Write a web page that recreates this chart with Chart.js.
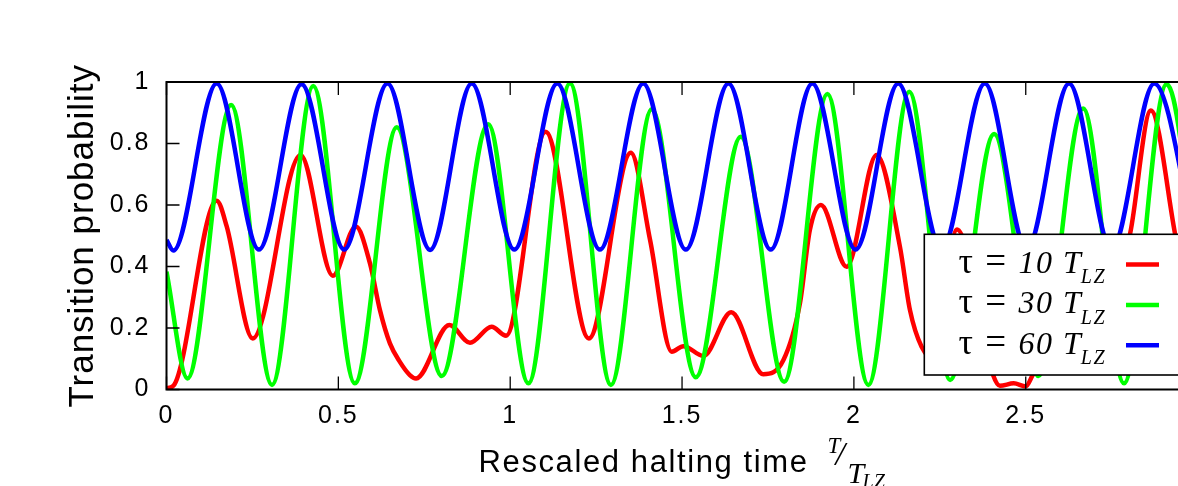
<!DOCTYPE html>
<html lang="en">
<head>
<meta charset="UTF-8" />
<title>Transition probability vs rescaled halting time</title>
<script src="https://cdn.jsdelivr.net/npm/chart.js"></script>
<style>
  html, body { margin: 0; padding: 0; background: #fff; overflow: hidden; }
  canvas { display: block; }
</style>
</head>
<body>
<canvas id="chart" width="1178" height="486"></canvas>
<script>
// tick labels
const xTicks = [0, 0.5, 1, 1.5, 2, 2.5];
const xTickLabels = ['0', '0.5', '1', '1.5', '2', '2.5'];
const yTicks = [0, 0.2, 0.4, 0.6, 0.8, 1];
const yTickLabels = ['0', '0.2', '0.4', '0.6', '0.8', '1'];
// the picture is cut at the right, just short of T/T_LZ = 3
const xMin = 0, xMax = 2.943, xFull = 3;

// tau values (in units of T_LZ) for the three curves
const tauValues = ['10', '30', '60'];
const colors = ['#ff0000', '#00ff00', '#0000ff'];

// tau = 10 T_LZ
const redX = [0, 0.02, 0.146, 0.175, 0.251, 0.390, 0.484, 0.551, 0.592, 0.621, 0.650, 0.679, 0.708, 0.726,
  0.823, 0.883, 0.946, 0.988, 1.103, 1.229, 1.351, 1.407, 1.470, 1.504, 1.562, 1.643, 1.736, 1.795, 1.843,
  1.872, 1.904, 1.979, 2.066, 2.134, 2.163, 2.197, 2.235, 2.300, 2.405, 2.425, 2.465, 2.500, 2.520, 2.600,
  2.700, 2.804, 2.864, 2.934, 3.0];
const redY = [0.004, 0.012, 0.614, 0.531, 0.166, 0.763, 0.370, 0.530, 0.41, 0.258, 0.150, 0.090, 0.047, 0.036,
  0.210, 0.152, 0.204, 0.175, 0.838, 0.166, 0.770, 0.486, 0.123, 0.141, 0.109, 0.251, 0.050, 0.096, 0.28,
  0.519, 0.600, 0.399, 0.763, 0.464, 0.259, 0.139, 0.10, 0.52, 0.047, 0.012, 0.02, 0.010, 0.047, 0.22,
  0.09, 0.509, 0.907, 0.509, 0.1];

// tau = 30 T_LZ
const greenX = [0, 0.061, 0.188, 0.307, 0.427, 0.548, 0.670, 0.801, 0.936, 1.053, 1.174, 1.293, 1.412, 1.540,
  1.671, 1.797, 1.923, 2.042, 2.161, 2.280, 2.408, 2.537, 2.667, 2.786, 2.910, 3.03];
const greenY = [0.383, 0.036, 0.925, 0.015, 0.987, 0.020, 0.853, 0.044, 0.863, 0.020, 0.996, 0.015, 0.911, 0.040,
  0.822, 0.025, 0.961, 0.015, 0.968, 0.031, 0.831, 0.044, 0.914, 0.020, 0.993, 0.02];

// tau = 60 T_LZ
const blueX = [0, 0.020, 0.146, 0.269, 0.393, 0.517, 0.643, 0.767, 0.888, 1.012, 1.137, 1.261, 1.387, 1.511,
  1.635, 1.758, 1.879, 2.005, 2.129, 2.255, 2.381, 2.503, 2.626, 2.750, 2.874, 2.998];
const blueY = [0.486, 0.452, 0.995, 0.455, 0.993, 0.455, 0.995, 0.454, 0.995, 0.455, 0.995, 0.455, 0.995, 0.455,
  0.995, 0.455, 0.995, 0.455, 0.995, 0.455, 0.995, 0.455, 0.995, 0.455, 0.995, 0.455];

const toPoints = (xs, ys) => xs.map((x, i) => ({ x: x, y: ys[i] }));
const allX = [redX, greenX, blueX];
const allY = [redY, greenY, blueY];

const SANS = '"Liberation Sans", Arial, sans-serif';
const SERIF = '"Liberation Serif", "Times New Roman", serif';

// draws a row of text pieces (font changes, subscripts) starting at x
function drawPieces(ctx, pieces, x, baseline) {
  pieces.forEach(p => {
    ctx.font = p.font;
    ctx.fillText(p.t, x + (p.dx || 0), baseline + (p.dy || 0));
    x += ctx.measureText(p.t).width + (p.dx || 0);
  });
  return x;
}
function piecesWidth(ctx, pieces) {
  let w = 0;
  pieces.forEach(p => { ctx.font = p.font; w += ctx.measureText(p.t).width + (p.dx || 0); });
  return w;
}

const gnuplotLook = {
  id: 'gnuplotLook',
  beforeDraw(chart) {
    chart.ctx.letterSpacing = '2px';
  },
  afterDraw(chart) {
    const { ctx, chartArea: a, scales } = chart;
    const xs = scales.x, ys = scales.y;
    const fullRight = xs.getPixelForValue(xFull);
    ctx.save();
    ctx.letterSpacing = '0px';
    ctx.fillStyle = '#000';
    ctx.strokeStyle = '#000';

    // inward tick marks, mirrored at the top
    ctx.lineWidth = 1.3;
    ctx.beginPath();
    ys.ticks.forEach(t => {
      const p = ys.getPixelForValue(t.value);
      ctx.moveTo(a.left, p); ctx.lineTo(a.left + 13, p);
    });
    xs.ticks.forEach(t => {
      const p = xs.getPixelForValue(t.value);
      ctx.moveTo(p, a.bottom); ctx.lineTo(p, a.bottom - 13);
      ctx.moveTo(p, a.top); ctx.lineTo(p, a.top + 13);
    });
    ctx.stroke();

    // plot frame (right side lies outside the picture)
    ctx.lineWidth = 2;
    ctx.beginPath();
    ctx.moveTo(a.right + 5, a.top);
    ctx.lineTo(a.left, a.top);
    ctx.lineTo(a.left, a.bottom);
    ctx.lineTo(a.right + 5, a.bottom);
    ctx.stroke();

    // y axis title
    ctx.save();
    ctx.letterSpacing = '1px';
    ctx.font = '35px ' + SANS;
    ctx.textAlign = 'center';
    ctx.textBaseline = 'alphabetic';
    ctx.translate(93, (a.top + a.bottom) / 2);
    ctx.rotate(-Math.PI / 2);
    ctx.fillText('Transition probability', 0, 0);
    ctx.restore();

    // x axis title with T / T_LZ fraction
    ctx.save();
    ctx.textAlign = 'left';
    ctx.textBaseline = 'alphabetic';
    ctx.letterSpacing = '1.6px';
    ctx.font = '31px ' + SANS;
    const mainText = 'Rescaled halting time';
    const w1 = ctx.measureText(mainText).width;
    const fracW = 77;
    const cx = (a.left + fullRight) / 2;
    const x0 = cx - (w1 + fracW) / 2;
    const base = a.bottom + 82.2;
    ctx.fillText(mainText, x0, base);
    ctx.letterSpacing = '0px';
    const e = x0 + w1;
    ctx.font = 'italic 23px ' + SERIF;
    ctx.fillText('T', e + 19, base - 18.7);
    ctx.font = 'italic 34px ' + SERIF;
    ctx.fillText('/', e + 27, base - 7);
    ctx.font = 'italic 30px ' + SERIF;
    ctx.fillText('T', e + 39, base + 11.3);
    ctx.font = 'italic 20px ' + SERIF;
    ctx.fillText('LZ', e + 54, base + 16.3);
    ctx.restore();

    // key box
    const kx = 924.3, ky = 234.3, kb = a.bottom - 14.5, kr = a.right + 5;
    ctx.fillStyle = '#fff';
    ctx.fillRect(kx, ky, kr - kx, kb - ky);
    ctx.lineWidth = 1.6;
    ctx.strokeStyle = '#000';
    ctx.strokeRect(kx, ky, kr - kx, kb - ky);

    ctx.letterSpacing = '1.5px';
    ctx.fillStyle = '#000';
    ctx.textAlign = 'left';
    ctx.textBaseline = 'alphabetic';
    const rowY = [264.5, 305, 345.3];
    tauValues.forEach((tau, i) => {
      const pieces = [
        { t: '\u03C4', font: '36px ' + SERIF },
        { t: ' = ', font: '37px ' + SERIF },
        { t: tau, font: 'italic 32px ' + SERIF },
        { t: ' T', font: 'italic 32px ' + SERIF },
        { t: 'LZ', font: 'italic 20px ' + SERIF, dy: 10.6, dx: -1.5 }
      ];
      const w = piecesWidth(ctx, pieces);
      drawPieces(ctx, pieces, 1106 - w, rowY[i] + 8.2);
      ctx.strokeStyle = colors[i];
      ctx.lineWidth = 4.5;
      ctx.beginPath();
      ctx.moveTo(1126, rowY[i]);
      ctx.lineTo(1159, rowY[i]);
      ctx.stroke();
    });
    ctx.restore();
  }
};

new Chart(document.getElementById('chart'), {
  type: 'line',
  data: {
    datasets: tauValues.map((tau, i) => ({
      label: '\u03C4 = ' + tau + ' T_LZ',
      data: toPoints(allX[i], allY[i]),
      borderColor: colors[i],
      borderWidth: 4.5,
      pointRadius: 0,
      fill: false,
      cubicInterpolationMode: 'monotone',
      order: 3 - i
    }))
  },
  options: {
    responsive: false,
    animation: false,
    devicePixelRatio: 1,
    layout: { padding: { top: 82, right: 0, left: 0, bottom: 0 } },
    plugins: { legend: { display: false }, tooltip: { enabled: false } },
    scales: {
      x: {
        type: 'linear',
        min: xMin,
        max: xMax,
        afterBuildTicks: s => { s.ticks = xTicks.map(v => ({ value: v })); },
        afterFit: s => { s.height = 96.5; },
        grid: { display: false, drawTicks: false },
        border: { display: false },
        ticks: { color: '#000', padding: 11.5, font: { family: SANS, size: 25 }, maxRotation: 0,
          callback: (v, i) => xTickLabels[i] }
      },
      y: {
        min: 0,
        max: 1,
        afterBuildTicks: s => { s.ticks = yTicks.map(v => ({ value: v })); },
        afterFit: s => { s.width = 166.5; },
        grid: { display: false, drawTicks: false },
        border: { display: false },
        ticks: { color: '#000', padding: 16, font: { family: SANS, size: 25 },
          callback: (v, i) => yTickLabels[i] }
      }
    }
  },
  plugins: [gnuplotLook]
});
</script>
</body>
</html>
